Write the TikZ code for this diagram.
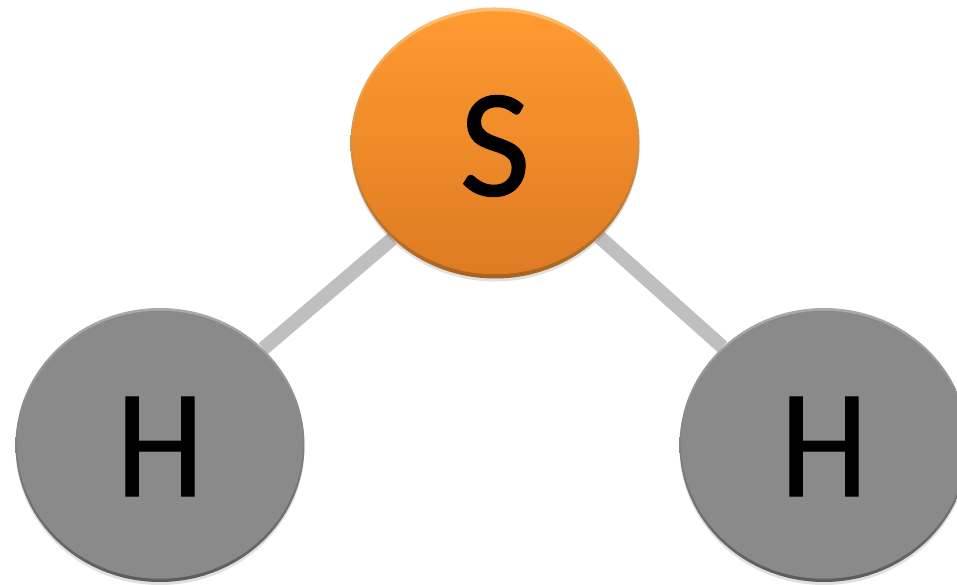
\documentclass[tikz,border=0pt]{standalone}
\usepackage{fontspec}
\newfontfamily\atomfont[FakeBold=0.7]{Carlito}
\usetikzlibrary{shapes.geometric,backgrounds,shadows}

\definecolor{bondgray}{HTML}{BFBFBF}
\definecolor{orangetop}{HTML}{FF9B30}
\definecolor{orangebot}{HTML}{DE7A22}
\definecolor{orangelit}{HTML}{FFBE70}
\definecolor{orangedim}{HTML}{A8641F}
\definecolor{graylit}{HTML}{ABABAB}
\definecolor{graydim}{HTML}{5C5C5C}
\definecolor{grayface}{HTML}{8A8A8A}

\tikzstyle{atom} = [ellipse,inner sep=0pt,minimum width=5.78cm,
	general shadow={shadow yshift=-0.06cm,fill=black,opacity=0.12}]
\tikzstyle{letter} = [font=\atomfont\fontsize{88}{88}\selectfont,text=black]
\tikzstyle{bond} = [line width=0.28cm,color=bondgray]
\tikzstyle{hatom} = [atom,minimum height=5.48cm,top color=graylit,bottom color=graydim,
	path picture={\fill[grayface] ([yshift=0.005cm]path picture bounding box.center) ellipse (2.85cm and 2.68cm);}]

\begin{document}
\begin{tikzpicture}
	\useasboundingbox (0,0) rectangle (19.14,11.7);

	\node[atom,minimum height=5.42cm,top color=orangelit,bottom color=orangedim,
		path picture={\shade[top color=orangetop,bottom color=orangebot]
			([yshift=0.005cm]path picture bounding box.center) ellipse (2.85cm and 2.63cm);},
		label={[letter,yshift=-0.06cm]center:S}] (s1) at (9.9,8.84) {};
	\node[hatom,label={[letter,yshift=-0.03cm]center:\scalebox{0.91}[1]{H}}] (h1) at (3.2,2.8) {};
	\node[hatom,label={[letter,yshift=-0.03cm]center:\scalebox{0.91}[1]{H}}] (h2) at (16.48,2.8) {};

	\begin{scope}[on background layer]
		\draw[bond] (s1.223) -- (h1.43);
		\draw[bond] (s1.-42) -- (h2.136);
	\end{scope}
\end{tikzpicture}
\end{document}
